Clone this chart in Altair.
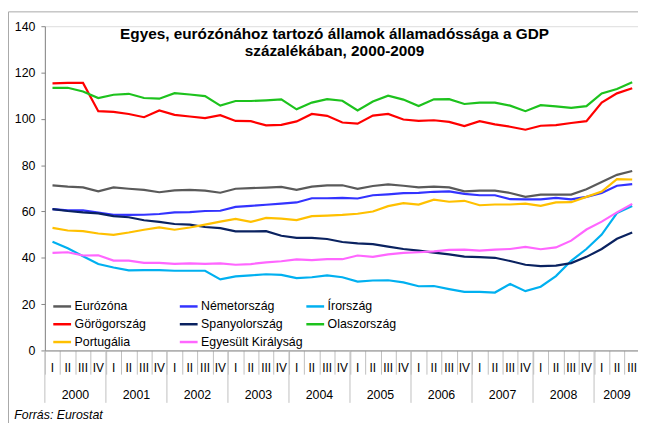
import altair as alt
import pandas as pd

FONT = "Liberation Sans"

# ---- data ----
quarter_labels = ["I", "II", "III", "IV"] * 9 + ["I", "II", "III"]
years = ["2000", "2001", "2002", "2003", "2004", "2005", "2006", "2007", "2008", "2009"]
year_centers = [1.5, 5.5, 9.5, 13.5, 17.5, 21.5, 25.5, 29.5, 33.5, 37.0]
quarter_bounds = [i - 0.5 for i in range(40)]
year_bounds = [-0.5, 3.5, 7.5, 11.5, 15.5, 19.5, 23.5, 27.5, 31.5, 35.5]

series_names = ["Eurózóna", "Németország", "Írország", "Görögország", "Spanyolország",
                "Olaszország", "Portugália", "Egyesült Királyság"]
series_colors = ["#5A5A5A", "#3333FF", "#00B0F0", "#FF0000", "#0A2260",
                 "#1DC21D", "#FFC000", "#FF66FF"]

eurozona = [71.3, 70.7, 70.4, 68.7, 70.4, 69.8, 69.3, 68.3, 69.1, 69.3, 69.0, 68.1, 69.8,
            70.1, 70.3, 70.6, 69.3, 70.7, 71.3, 71.3, 69.8, 71.0, 71.7, 71.1, 70.4,
            70.7, 70.4, 68.7, 69.0, 69.0, 68.0, 66.3, 67.3, 67.3, 67.3, 69.6, 72.7, 75.8, 77.5]
nemetorszag = [61.0, 60.5, 60.5, 59.5, 58.6, 58.5, 58.6, 58.9, 59.6, 59.7, 60.2, 60.3, 62.0,
               62.4, 62.9, 63.4, 63.9, 65.7, 65.7, 65.9, 65.6, 67.0, 67.4, 67.9, 68.0,
               68.5, 68.7, 67.6, 67.0, 67.0, 65.3, 65.2, 65.2, 65.9, 65.2, 66.3, 68.0, 71.1, 71.8]
irorszag = [46.9, 44.1, 40.7, 37.3, 35.8, 34.6, 34.7, 34.7, 34.4, 34.4, 34.4, 30.7, 32.0,
            32.4, 32.9, 32.6, 31.2, 31.6, 32.4, 31.6, 29.7, 30.2, 30.3, 29.4, 27.7,
            27.8, 26.5, 25.3, 25.3, 25.0, 28.7, 25.6, 27.5, 32.1, 38.7, 43.8, 50.0, 59.3, 62.4]
gorogorszag = [115.3, 115.5, 115.5, 103.3, 103.0, 102.1, 100.7, 103.6, 101.7, 101.0, 100.3, 101.6, 99.1,
               99.0, 97.2, 97.4, 98.9, 102.1, 101.3, 98.4, 97.9, 101.4, 102.1, 99.7, 99.1,
               99.4, 98.7, 96.9, 99.0, 97.6, 96.6, 95.3, 97.0, 97.3, 98.2, 99.0, 107.0, 111.0, 113.2]
spanyolorszag = [61.0, 60.2, 59.6, 59.2, 58.0, 57.5, 56.2, 55.5, 54.6, 54.3, 53.3, 52.8, 51.4,
                 51.4, 51.5, 49.5, 48.6, 48.6, 48.1, 46.8, 46.2, 45.9, 44.8, 43.8, 43.1,
                 42.2, 41.5, 40.5, 40.3, 40.0, 38.6, 37.0, 36.4, 36.6, 37.7, 40.4, 43.8, 48.2, 50.9]
olaszorszag = [113.4, 113.4, 111.8, 109.0, 110.4, 110.8, 109.0, 108.7, 111.1, 110.5, 109.8, 105.7, 107.7,
               107.7, 108.0, 108.4, 104.1, 107.0, 108.5, 107.8, 103.6, 107.5, 110.0, 108.3, 105.5,
               108.4, 108.5, 106.4, 107.0, 107.0, 105.7, 103.3, 105.9, 105.4, 104.7, 105.5, 111.0, 112.9, 115.8]
portugalia = [52.9, 51.8, 51.5, 50.5, 49.9, 50.9, 52.1, 53.1, 52.1, 53.1, 54.3, 55.6, 56.8,
              55.5, 57.2, 56.9, 56.3, 58.0, 58.2, 58.5, 59.0, 60.0, 62.3, 63.6, 63.0,
              65.1, 64.2, 64.6, 62.7, 63.0, 63.0, 63.4, 62.4, 63.9, 64.0, 66.3, 68.6, 74.0, 73.8]
egyesult_kiralysag = [42.1, 42.4, 41.0, 41.1, 38.8, 38.8, 37.8, 37.8, 37.4, 37.6, 37.4, 37.6, 37.0,
                      37.3, 38.0, 38.5, 39.3, 39.0, 39.4, 39.4, 41.0, 40.4, 41.5, 42.1, 42.4,
                      42.8, 43.4, 43.5, 43.1, 43.5, 43.8, 44.7, 43.7, 44.5, 47.4, 52.2, 55.6, 59.6, 63.3]

series_values = [eurozona, nemetorszag, irorszag, gorogorszag, spanyolorszag,
                 olaszorszag, portugalia, egyesult_kiralysag]

rows = []
for si, (name, vals) in enumerate(zip(series_names, series_values)):
    for i, v in enumerate(vals):
        rows.append({"q": i, "value": v, "series": name, "si": si})
lines_df = pd.DataFrame(rows)

qlab_df = pd.DataFrame({"q": list(range(len(quarter_labels))), "label": quarter_labels})
year_df = pd.DataFrame({"q": year_centers, "label": years})
ybound_df = pd.DataFrame({"q": year_bounds})

W, H = 600, 328

x_enc = alt.X(
    "q:Q",
    scale=alt.Scale(domain=[-0.5, 38.38], nice=False, zero=False),
    axis=alt.Axis(values=quarter_bounds, labels=False, title=None, grid=False,
                  tickSize=24, tickColor="#BFBFBF", tickWidth=1,
                  domainColor="#868686", domainWidth=1),
)

lines = alt.Chart(lines_df).mark_line(strokeWidth=2.2).encode(
    x=x_enc,
    y=alt.Y("value:Q",
            scale=alt.Scale(domain=[0, 140], nice=False),
            axis=alt.Axis(values=list(range(0, 141, 20)), title=None, grid=False,
                          tickSize=4, tickColor="#868686", domainColor="#868686",
                          labelPadding=6, labelFont=FONT, labelFontSize=12.5,
                          labelColor="#000000")),
    color=alt.Color("series:N",
                    scale=alt.Scale(domain=series_names, range=series_colors),
                    sort=series_names,
                    legend=alt.Legend(orient="none", legendX=7, legendY=273, columns=3,
                                      direction="horizontal",
                                      title=None, symbolType="stroke", symbolSize=324,
                                      symbolStrokeWidth=2.5, labelFont=FONT,
                                      labelFontSize=12.5, labelColor="#000000",
                                      labelOffset=2, rowPadding=1, columnPadding=-2,
                                      gridAlign="all", padding=0)),
    order=alt.Order("q:Q"),
    detail="series:N",
)

ysep = alt.Chart(ybound_df).mark_rule(color="#BFBFBF", strokeWidth=1).encode(
    x=x_enc, y=alt.value(H), y2=alt.value(H + 53)
)

qlabels = alt.Chart(qlab_df).mark_text(font=FONT, fontSize=12, color="#000000",
                                       baseline="middle", align="center").encode(
    x=x_enc, y=alt.value(H + 17.5), text="label:N"
)

ylabels = alt.Chart(year_df).mark_text(font=FONT, fontSize=12.5, color="#000000",
                                       baseline="middle", align="center").encode(
    x=x_enc, y=alt.value(H + 45.5), text="label:N"
)

source = alt.Chart(pd.DataFrame({"t": ["Forrás: Eurostat"]})).mark_text(
    font=FONT, fontSize=12.5, fontStyle="italic", color="#000000",
    align="left", baseline="alphabetic").encode(
    x=alt.value(-31), y=alt.value(H + 69), text="t:N"
)

frame = alt.Chart(pd.DataFrame({"a": [0]})).mark_rect(
    filled=False, stroke="#A8A8A8", strokeWidth=1).encode(
    x=alt.value(-36.8), x2=alt.value(720), y=alt.value(-14.5), y2=alt.value(500)
)

chart = alt.layer(frame, ysep, lines, qlabels, ylabels, source).properties(
    width=W, height=H,
    autosize=alt.AutoSizeParams(type="none"),
    padding={"left": 37.3, "top": 16, "right": 0, "bottom": 71},
    title=alt.TitleParams(
        ["Egyes, eurózónához tartozó államok államadóssága a GDP",
         "százalékában, 2000-2009"],
        font=FONT, fontSize=15.5, fontWeight="bold", color="#000000",
        anchor="middle", offset=-49, dx=-7, lineHeight=18,
    ),
).configure_view(stroke=None).configure(background="white")

chart.save("out.html", embed_options={"renderer": "svg", "actions": False})
